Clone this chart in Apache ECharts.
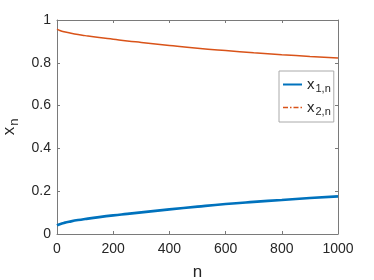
<!DOCTYPE html>
<html>
<head>
<meta charset="utf-8">
<script src="https://cdn.jsdelivr.net/npm/echarts@6/dist/echarts.min.js"></script>
<style>html,body{margin:0;padding:0;background:#fff;}#c{width:374px;height:280px;}</style>
</head>
<body>
<div id="c"></div>
<script>
var nValues = [0, 10, 25, 50, 75, 100, 150, 200, 250, 300, 400, 500, 600, 700, 800, 900, 1000];
var x1Values = [0.040, 0.046, 0.052, 0.059, 0.065, 0.070, 0.079, 0.087, 0.094, 0.101, 0.115, 0.128, 0.140, 0.150, 0.159, 0.168, 0.176];
var x2Values = [0.957, 0.951, 0.945, 0.938, 0.932, 0.927, 0.918, 0.910, 0.902, 0.895, 0.881, 0.868, 0.857, 0.847, 0.838, 0.830, 0.822];
var xTicks = [0, 200, 400, 600, 800, 1000];
var yTicks = [0, 0.2, 0.4, 0.6, 0.8, 1];

var FONT = 'Liberation Sans';
var TXT = '#262626';
var AX = '#7a7a7a';

function pairs(xs, ys) { return xs.map(function (x, i) { return [x, ys[i]]; }); }

var chart = echarts.init(document.getElementById('c'), null, {renderer: 'canvas'});

function axisCommon(showLabel) {
  return {
    axisLine: {show: true, onZero: false, lineStyle: {color: AX, width: 1}},
    axisTick: {show: true, inside: true, length: 3, lineStyle: {color: AX}},
    splitLine: {show: false},
    axisLabel: {show: showLabel, color: TXT, fontFamily: FONT, fontSize: 14}
  };
}

var xBottom = Object.assign(axisCommon(true), {
  type: 'value', min: 0, max: 1000, interval: 200, position: 'bottom',
  name: 'n', nameLocation: 'middle', nameGap: 30,
  nameTextStyle: {color: TXT, fontFamily: FONT, fontSize: 17}
});
xBottom.axisLabel.margin = 8;
xBottom.axisLabel.formatter = function (v) { return xTicks.indexOf(v) >= 0 ? String(v) : ''; };
var xTop = Object.assign(axisCommon(false), {type: 'value', min: 0, max: 1000, interval: 200, position: 'top'});

var yLeft = Object.assign(axisCommon(true), {
  type: 'value', min: 0, max: 1, interval: 0.2, position: 'left',
  name: '{a|x}{b|n}', nameLocation: 'middle', nameGap: 35, nameRotate: 90,
  nameTextStyle: {
    color: TXT, fontFamily: FONT,
    rich: {
      a: {fontSize: 17, fontFamily: FONT, color: TXT},
      b: {fontSize: 13, fontFamily: FONT, color: TXT, padding: [9, 0, 0, 1], verticalAlign: 'bottom'}
    }
  }
});
yLeft.axisLabel.margin = 6;
yLeft.axisLabel.formatter = function (v) {
  var r = Math.round(v * 10) / 10;
  return yTicks.indexOf(r) >= 0 ? String(r) : '';
};
var yRight = Object.assign(axisCommon(false), {type: 'value', min: 0, max: 1, interval: 0.2, position: 'right'});

var legendRich = {
  a: {fontSize: 15, fontFamily: FONT, color: TXT},
  b: {fontSize: 11, fontFamily: FONT, color: TXT, padding: [8, 0, 0, 1], verticalAlign: 'bottom'}
};

chart.setOption({
  animation: false,
  backgroundColor: '#fff',
  grid: {left: 57, right: 36, top: 20, bottom: 46, outerBoundsMode: 'none', containLabel: false},
  xAxis: [xBottom, xTop],
  yAxis: [yLeft, yRight],
  legend: {
    show: true,
    orient: 'vertical', left: 279, top: 71,
    itemWidth: 19, itemHeight: 10, itemGap: 6,
    padding: [6, 3, 5, 3],
    borderColor: '#aaaaaa', borderWidth: 1, backgroundColor: '#fff',
    textStyle: {rich: legendRich},
    formatter: function (name) {
      return name === 'x1' ? '{a|x}{b|1,n}' : '{a|x}{b|2,n}';
    },
    data: [
      {name: 'x1', itemStyle: {opacity: 0}, lineStyle: {color: '#0072BD', width: 2}},
      {name: 'x2', itemStyle: {opacity: 0}, lineStyle: {color: '#D95319', width: 1.3, type: [5, 2, 1.5, 2]}}
    ]
  },
  series: [
    {
      name: 'x1', type: 'line', xAxisIndex: 0, yAxisIndex: 0,
      data: pairs(nValues, x1Values), smooth: true, showSymbol: false, symbol: 'none',
      lineStyle: {color: '#0072BD', width: 2.6}, itemStyle: {color: '#0072BD'}
    },
    {
      name: 'x2', type: 'line', xAxisIndex: 0, yAxisIndex: 0,
      data: pairs(nValues, x2Values), smooth: true, showSymbol: false, symbol: 'none',
      lineStyle: {color: '#D95319', width: 1.5}, itemStyle: {color: '#D95319'}
    }
  ]
});
</script>
</body>
</html>
